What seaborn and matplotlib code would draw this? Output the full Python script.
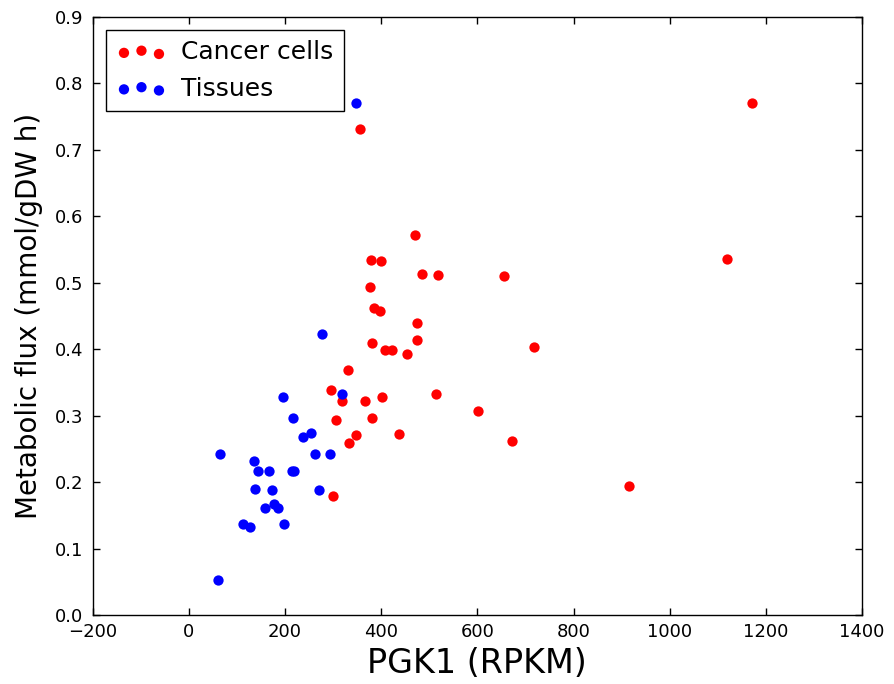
import matplotlib
matplotlib.use("Agg")
import matplotlib.pyplot as plt
import seaborn as sns
import pandas as pd

# -----------------------------
# Data
# -----------------------------
cancer_pgk1 = [1172, 355, 470, 1120, 379, 399, 485, 519, 656, 376,
               385, 397, 474, 474, 381, 407, 423, 453, 718, 330,
               295, 513, 319, 366, 402, 305, 381, 602, 348, 438,
               334, 672, 915, 300]
cancer_flux = [0.770, 0.731, 0.572, 0.535, 0.534, 0.532, 0.513, 0.511, 0.510, 0.494,
               0.462, 0.457, 0.439, 0.413, 0.409, 0.399, 0.399, 0.392, 0.403, 0.369,
               0.338, 0.332, 0.322, 0.322, 0.328, 0.294, 0.296, 0.307, 0.270, 0.272,
               0.259, 0.261, 0.194, 0.179]

tissue_pgk1 = [347, 277, 195, 319, 216, 237, 255, 65, 262, 294,
               135, 143, 167, 214, 219, 138, 172, 270, 159, 178,
               185, 112, 128, 198, 60]
tissue_flux = [0.770, 0.422, 0.328, 0.332, 0.296, 0.268, 0.274, 0.242, 0.242, 0.242,
               0.231, 0.216, 0.216, 0.216, 0.216, 0.190, 0.188, 0.188, 0.161, 0.167,
               0.161, 0.137, 0.133, 0.137, 0.053]

cancer = pd.DataFrame({"pgk1": cancer_pgk1, "flux": cancer_flux})
tissue = pd.DataFrame({"pgk1": tissue_pgk1, "flux": tissue_flux})

# -----------------------------
# Style (old matplotlib look)
# -----------------------------
sns.set_style("ticks")
plt.rcParams["font.family"] = ["DejaVu Sans"]
plt.rcParams["text.color"] = "black"
plt.rcParams["axes.labelcolor"] = "black"
plt.rcParams["xtick.color"] = "black"
plt.rcParams["ytick.color"] = "black"
plt.rcParams["xtick.direction"] = "in"
plt.rcParams["ytick.direction"] = "in"
plt.rcParams["xtick.top"] = True
plt.rcParams["ytick.right"] = True
plt.rcParams["xtick.major.size"] = 5
plt.rcParams["ytick.major.size"] = 5

fig = plt.figure(figsize=(8.95, 6.84), dpi=100)
ax = fig.add_axes([0.1036, 0.1009, 0.8595, 0.8747])

sns.scatterplot(data=cancer, x="pgk1", y="flux", color="red", s=55,
                linewidth=0, label="Cancer cells", ax=ax)
sns.scatterplot(data=tissue, x="pgk1", y="flux", color="blue", s=55,
                linewidth=0, label="Tissues", ax=ax)

ax.set_xlim(-200, 1400)
ax.set_ylim(0, 0.9)
ax.set_xticks(range(-200, 1401, 200))
ax.set_yticks([i / 10 for i in range(10)])
ax.set_yticklabels([f"{i / 10:.1f}" for i in range(10)])
ax.tick_params(labelsize=13, width=1)
ax.tick_params(axis="x", pad=6)
ax.tick_params(axis="y", pad=7)
for sp in ax.spines.values():
    sp.set_color("black")
    sp.set_linewidth(1)

ax.set_xlabel("PGK1 (RPKM)", fontsize=24, labelpad=4)
ax.set_ylabel("Metabolic flux (mmol/gDW h)", fontsize=20, labelpad=8)

leg = ax.legend(loc="upper left", scatterpoints=3, fontsize=18,
                fancybox=False, framealpha=1, edgecolor="black",
                handletextpad=0.6, borderaxespad=0.55)
leg.get_frame().set_linewidth(1)

plt.savefig("out.png", dpi=100)
